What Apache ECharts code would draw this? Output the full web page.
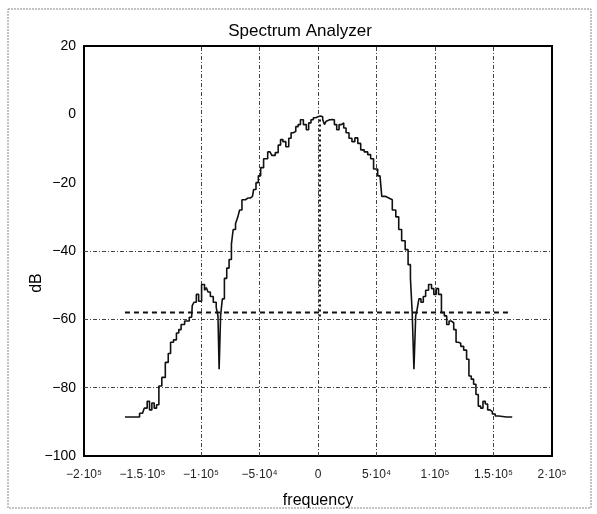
<!DOCTYPE html>
<html>
<head>
<meta charset="utf-8">
<script src="https://cdn.jsdelivr.net/npm/echarts@6/dist/echarts.min.js"></script>
<style>html,body{margin:0;padding:0;background:#fff}#c{width:597px;height:514px}</style>
</head>
<body>
<div id="c"></div>
<script>
// Spectrum curve (frequency in Hz, level in dB)
var freq = [-165000,-155000,-150000,-147000,-145000,-143000,-141000,-139000,-137000,-135000,-132000,-129000,-127000,-125000,-122000,-120000,-118000,-116000,-112000,-108000,-107000,-105000,-103000,-101000,-98000,-96000,-95000,-93000,-91000,-88000,-86000,-85000,-84000,-82500,-81000,-79000,-77000,-75000,-73000,-72000,-69000,-68000,-66000,-64000,-60000,-56000,-54000,-52000,-50000,-48000,-45000,-41000,-38000,-35000,-33000,-31000,-29000,-26000,-24000,-22000,-20000,-18000,-16000,-14000,-11000,-9000,-7000,-5000,-3000,-1000,1000,3000,5000,6000,8000,9000,11000,13000,15000,17000,19000,21000,23000,25000,28000,30000,33000,35000,38000,41000,44000,46000,49000,53000,56000,59000,62000,65000,68000,70000,73000,76000,78000,80000,81000,83000,84000,85500,87000,89000,91000,93000,96000,98000,100000,102000,104000,107000,109000,111000,113000,115000,117000,119000,121000,123000,126000,128000,130000,132000,134000,136000,138000,140000,142000,144000,146000,148000,150000,153000,156000,166000];
var level = [-88.6,-88.6,-87.5,-86,-84,-86.5,-84.5,-86,-85,-79.5,-77,-72.6,-70,-66.7,-66,-64,-63,-61.5,-60.5,-59.4,-56,-55,-52.7,-54.7,-49.8,-51.5,-50.7,-52,-53.3,-55,-56.5,-59,-74.6,-59,-54,-48,-45,-42.5,-38,-33.7,-32,-30,-28,-25,-24.5,-24,-22,-20,-18,-15.6,-13,-11,-12,-11.2,-9,-7.4,-8,-9.5,-7,-5.4,-5,-3.6,-3,-1.6,-3,-4.5,-2.5,-1.6,-1,-0.7,-0.5,-0.7,-1.5,-3,-2,-1.6,-1.5,-1.6,-3,-4.5,-3,-2.5,-4,-5.4,-7,-8,-6.9,-8.5,-10.4,-11,-11.8,-13,-16,-18,-24,-24.5,-25,-28,-30,-33.7,-37,-39.6,-44,-48,-58,-74.6,-59,-57,-54,-55,-53.3,-51.5,-49.8,-51,-52.7,-51,-52.7,-58,-59,-61.5,-60.5,-61,-63,-66.7,-67,-67.9,-69,-71.7,-76.6,-77.5,-79,-82,-85.4,-86,-84,-84.8,-86.5,-87,-87.7,-88.3,-88.6,-88.6];
// Threshold (dashed) and marker (dotted)
var thresholdX = [-165000, 165000];
var thresholdY = -58;
var markerX = 1500;
var markerY = [-1.5, -60];
// Axis ticks and grid
var xTicks = [-200000,-150000,-100000,-50000,0,50000,100000,150000,200000];
var xTickLabels = ['\u22122\u00b710\u2075','\u22121.5\u00b710\u2075','\u22121\u00b710\u2075','\u22125\u00b710\u2074','0','5\u00b710\u2074','1\u00b710\u2075','1.5\u00b710\u2075','2\u00b710\u2075'];
var yTicks = [20,0,-20,-40,-60,-80,-100];
var vGrid = [-100000,-50000,0,50000,100000,150000];
var hGrid = [-80,-60,-40];

var chart = echarts.init(document.getElementById('c'), null, {renderer:'canvas'});
var FONT = 'Liberation Sans, Arial, sans-serif';
var gridStyle = {color:'#444', type:[4,2,1,2], width:1};
var markData = vGrid.map(function(v){return {xAxis:v};}).concat(hGrid.map(function(v){return {yAxis:v};}));

chart.setOption({
  animation:false,
  backgroundColor:'#fff',
  title:{text:'Spectrum Analyzer', left:295, top:18, textAlign:'center',
    textStyle:{fontFamily:FONT, fontSize:17, fontWeight:'normal', color:'#000'}},
  graphic:[
    {type:'rect', shape:{x:8, y:9, width:583, height:499}, style:{fill:'none', stroke:'#888', lineWidth:1, lineDash:[2,1]}},
    {type:'text', x:37, y:283, rotation:Math.PI/2, style:{text:'dB', font:'16px '+FONT, fill:'#000', textAlign:'center', textVerticalAlign:'middle'}}
  ],
  grid:{left:84, right:45, top:46, bottom:57, show:true, borderColor:'#000', borderWidth:2, backgroundColor:'#fff'},
  xAxis:{type:'value', min:-200000, max:200000, interval:50000,
    name:'frequency', nameLocation:'middle', nameGap:37,
    nameTextStyle:{fontFamily:FONT, fontSize:16, color:'#000'},
    axisLine:{show:false}, axisTick:{show:false}, splitLine:{show:false},
    axisLabel:{fontFamily:FONT, fontSize:12, color:'#222', margin:13,
      formatter:function(v){var i=xTicks.indexOf(v); return i>=0?xTickLabels[i]:'';}}},
  yAxis:{type:'value', min:-100, max:20, interval:20,
    axisLine:{show:false}, axisTick:{show:false}, splitLine:{show:false},
    axisLabel:{fontFamily:FONT, fontSize:14, color:'#000', margin:8,
      formatter:function(v){return v<0?'\u2212'+(-v):String(v);}}},
  series:[
    {type:'line', name:'grid', data:[], silent:true,
      markLine:{symbol:'none', silent:true, label:{show:false}, lineStyle:gridStyle, data:markData}},
    {type:'line', name:'spectrum', data:freq.map(function(f,i){return [f, level[i]];}),
      showSymbol:false, step:'middle', lineStyle:{color:'#111', width:1.6}, z:5},
    {type:'line', name:'threshold', data:thresholdX.map(function(f){return [f, thresholdY];}),
      showSymbol:false, lineStyle:{color:'#111', width:2, type:[5,4]}, z:4},
    {type:'line', name:'marker', data:markerY.map(function(y){return [markerX, y];}),
      showSymbol:false, lineStyle:{color:'#111', width:2.5, type:[2,3]}, z:4}
  ]
});
</script>
</body>
</html>
